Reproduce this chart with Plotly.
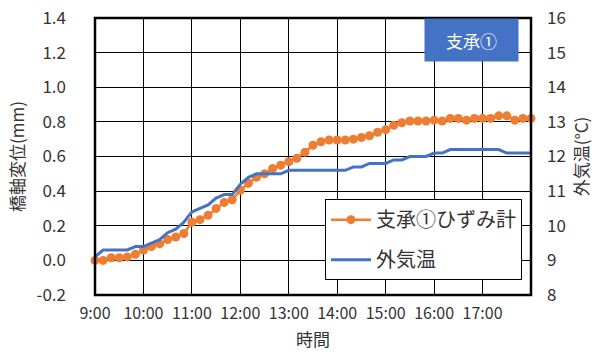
import plotly.graph_objects as go

times = ["9:00","9:10","9:20","9:30","9:40","9:50",
         "10:00","10:10","10:20","10:30","10:40","10:50",
         "11:00","11:10","11:20","11:30","11:40","11:50",
         "12:00","12:10","12:20","12:30","12:40","12:50",
         "13:00","13:10","13:20","13:30","13:40","13:50",
         "14:00","14:10","14:20","14:30","14:40","14:50",
         "15:00","15:10","15:20","15:30","15:40","15:50",
         "16:00","16:10","16:20","16:30","16:40","16:50",
         "17:00","17:10","17:20","17:30","17:40","17:50","18:00"]

strain = [0.00, 0.00, 0.015, 0.015, 0.02, 0.035,
          0.06, 0.08, 0.095, 0.12, 0.135, 0.155,
          0.22, 0.235, 0.26, 0.30, 0.335, 0.35,
          0.405, 0.445, 0.48, 0.50, 0.53, 0.55,
          0.57, 0.59, 0.625, 0.665, 0.685, 0.695,
          0.695, 0.695, 0.70, 0.71, 0.72, 0.74,
          0.755, 0.78, 0.795, 0.805, 0.805, 0.805,
          0.81, 0.805, 0.82, 0.82, 0.81, 0.82,
          0.82, 0.82, 0.835, 0.835, 0.81, 0.82, 0.82]

temp = [9.1, 9.3, 9.3, 9.3, 9.3, 9.4,
        9.4, 9.5, 9.6, 9.8, 9.9, 10.1,
        10.4, 10.5, 10.6, 10.8, 10.9, 10.9,
        11.2, 11.4, 11.5, 11.5, 11.5, 11.5,
        11.6, 11.6, 11.6, 11.6, 11.6, 11.6,
        11.6, 11.6, 11.7, 11.7, 11.8, 11.8,
        11.8, 11.9, 11.9, 12.0, 12.0, 12.0,
        12.1, 12.1, 12.2, 12.2, 12.2, 12.2,
        12.2, 12.2, 12.2, 12.1, 12.1, 12.1, 12.1]

x_tick_labels = ["9:00","10:00","11:00","12:00","13:00","14:00","15:00","16:00","17:00"]
y_left_ticks = [-0.2, 0.0, 0.2, 0.4, 0.6, 0.8, 1.0, 1.2, 1.4]
y_right_ticks = [8, 9, 10, 11, 12, 13, 14, 15, 16]

def to_hours(s):
    h, m = s.split(":")
    return int(h) + int(m) / 60.0

xh = [to_hours(t) for t in times]
xtickvals = [to_hours(t) for t in x_tick_labels]

FONT = "Noto Sans CJK JP"
TXT = "#333333"
ORANGE = "#ED7D31"
BLUE = "#4472C4"

fig = go.Figure()
fig.add_trace(go.Scatter(
    x=xh, y=strain, name="支承①ひずみ計", mode="lines+markers",
    line=dict(color=ORANGE, width=2.5), marker=dict(color=ORANGE, size=9),
    cliponaxis=False, legendgroup="a"))
fig.add_trace(go.Scatter(
    x=xh, y=temp, name="外気温", mode="lines", yaxis="y2",
    line=dict(color=BLUE, width=3), legendgroup="b"))

fig.update_layout(
    width=601, height=359,
    margin=dict(l=95, r=70, t=17.5, b=64),
    paper_bgcolor="white", plot_bgcolor="white",
    font=dict(family=FONT, size=16, color=TXT),
    xaxis=dict(range=[9, 18], tickvals=xtickvals, ticktext=x_tick_labels,
               showgrid=True, gridcolor="black", gridwidth=1, automargin=False,
               showline=False, zeroline=False, ticklabelstandoff=7,
               tickfont=dict(size=16), ticks="", title=dict(text="時間", font=dict(size=17), standoff=11)),
    yaxis=dict(range=[-0.2, 1.4], tickvals=y_left_ticks,
               ticktext=[f"{v:.1f}" for v in y_left_ticks], automargin=False,
               showgrid=True, gridcolor="black", gridwidth=1, zeroline=False,
               showline=False, ticks="", ticklabelstandoff=28, ticklabeloverflow="allow",
               tickfont=dict(size=17), title=dict(text="橋軸変位(mm)", font=dict(size=17), standoff=7)),
    yaxis2=dict(range=[8, 16], tickvals=y_right_ticks, overlaying="y", side="right",
                showgrid=False, zeroline=False, showline=False, ticks="", automargin=False,
                ticklabelstandoff=15, tickfont=dict(size=17), ticklabeloverflow="allow",
                title=dict(text="外気温(°C)", font=dict(size=17), standoff=11)),
    legend=dict(x=0.5275, y=0.346, xanchor="left", yanchor="top",
                bgcolor="white", bordercolor="black", borderwidth=1,
                font=dict(size=20, color=TXT), traceorder="grouped", tracegroupgap=11,
                itemwidth=40),
    showlegend=True,
)

# plot area frame
fig.add_shape(type="rect", xref="paper", yref="paper", x0=0, x1=1, y0=0, y1=1,
              line=dict(color="black", width=2.5), layer="above")

# label box
fig.add_annotation(xref="paper", yref="paper", x=0.8635, y=0.919,
                   xanchor="center", yanchor="middle",
                   text="支承①", showarrow=False, bgcolor=BLUE,
                   width=91, height=40,
                   font=dict(size=17, color="white", family=FONT))

fig.write_html("out.html", config={"displayModeBar": False},
               post_script="document.body.style.margin='0';")
